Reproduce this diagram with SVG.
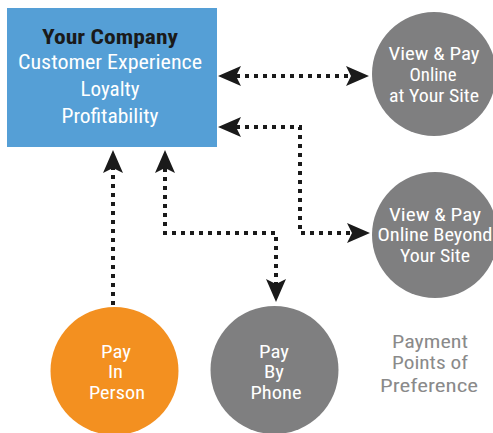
<svg xmlns="http://www.w3.org/2000/svg" width="493" height="433" viewBox="0 0 493 433">
  <style>
    .t { font-family: "Liberation Sans Narrow", "Roboto Condensed", "Liberation Sans", Arial, sans-serif; text-anchor: middle; }
    .box { fill: #559fd6; }
    .gray { fill: #7f7f80; }
    .orange { fill: #f39020; }
    .wt { fill: #ffffff; font-size: 17.5px; }
    .bt { fill: #ffffff; font-size: 20px; }
    .title { fill: #1a1a1a; font-size: 21px; font-weight: bold; }
    .cap { fill: #8a8a8a; font-size: 19px; }
    .conn { fill: none; stroke: #1a1a1a; stroke-width: 4; stroke-dasharray: 4 5; }
  </style>
  <defs>
    <marker id="ah" markerUnits="userSpaceOnUse" viewBox="0 0 23 20" markerWidth="23" markerHeight="20" refX="5" refY="10" orient="auto-start-reverse">
      <path d="M0,0 L23,10 L0,20 L5,10 Z" fill="#1a1a1a"/>
    </marker>
  </defs>
  <rect width="493" height="433" fill="#ffffff"/>

  <g id="company">
    <rect class="box" x="7" y="8" width="210" height="139"/>
    <text class="t title" x="110" y="44" textLength="136" lengthAdjust="spacingAndGlyphs">Your Company</text>
    <text class="t bt" x="110" y="69" textLength="184" lengthAdjust="spacingAndGlyphs">Customer Experience</text>
    <text class="t bt" x="110" y="96" textLength="59" lengthAdjust="spacingAndGlyphs">Loyalty</text>
    <text class="t bt" x="110" y="123" textLength="97" lengthAdjust="spacingAndGlyphs">Profitability</text>
  </g>

  <g id="online-site">
    <circle class="gray" cx="434" cy="74" r="62"/>
    <text class="t wt" x="434" y="60" textLength="91" lengthAdjust="spacingAndGlyphs">View &amp; Pay</text>
    <text class="t wt" x="433" y="81" textLength="47" lengthAdjust="spacingAndGlyphs">Online</text>
    <text class="t wt" x="434" y="102" textLength="90" lengthAdjust="spacingAndGlyphs">at Your Site</text>
  </g>

  <g id="online-beyond">
    <circle class="gray" cx="435" cy="235" r="63"/>
    <text class="t wt" x="435" y="221" textLength="92" lengthAdjust="spacingAndGlyphs">View &amp; Pay</text>
    <text class="t wt" x="435" y="241" textLength="115" lengthAdjust="spacingAndGlyphs">Online Beyond</text>
    <text class="t wt" x="435" y="262" textLength="70" lengthAdjust="spacingAndGlyphs">Your Site</text>
  </g>

  <g id="pay-in-person">
    <circle class="orange" cx="114.5" cy="371" r="64"/>
    <text class="t wt" x="116" y="358" textLength="30" lengthAdjust="spacingAndGlyphs">Pay</text>
    <text class="t wt" x="115.5" y="378" textLength="15" lengthAdjust="spacingAndGlyphs">In</text>
    <text class="t wt" x="117" y="399" textLength="56" lengthAdjust="spacingAndGlyphs">Person</text>
  </g>

  <g id="pay-by-phone">
    <circle class="gray" cx="274.5" cy="370" r="64"/>
    <text class="t wt" x="274" y="358" textLength="30" lengthAdjust="spacingAndGlyphs">Pay</text>
    <text class="t wt" x="274" y="378" textLength="20" lengthAdjust="spacingAndGlyphs">By</text>
    <text class="t wt" x="276" y="399" textLength="51" lengthAdjust="spacingAndGlyphs">Phone</text>
  </g>

  <g id="caption">
    <text class="t cap" x="430" y="348" textLength="76" lengthAdjust="spacingAndGlyphs">Payment</text>
    <text class="t cap" x="430" y="369" textLength="76" lengthAdjust="spacingAndGlyphs">Points of</text>
    <text class="t cap" x="429" y="392" textLength="98" lengthAdjust="spacingAndGlyphs">Preference</text>
  </g>

  <g id="connectors">
    <path class="conn" d="M236,76 H351" marker-start="url(#ah)" marker-end="url(#ah)"/>
    <path class="conn" d="M236,127 H300 V233 H352" marker-start="url(#ah)" marker-end="url(#ah)"/>
    <path class="conn" d="M165,168 V233 H276 V284" marker-start="url(#ah)" marker-end="url(#ah)"/>
    <path class="conn" d="M113,305 V168" marker-end="url(#ah)"/>
  </g>
</svg>
